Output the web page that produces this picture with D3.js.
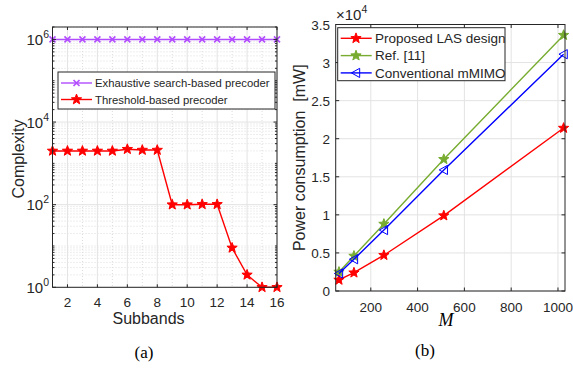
<!DOCTYPE html>
<html>
<head>
<meta charset="utf-8">
<script src="https://cdn.jsdelivr.net/npm/d3@7"></script>
<style>
  body { margin: 0; background: #fff; }
  text { font-family: "Liberation Sans", Arial, sans-serif; fill: #262626; }
  .serif { font-family: "Liberation Serif", "Times New Roman", serif; fill: #000; }
</style>
</head>
<body>
<script>
// Dados do painel (a): complexidade por sub-banda
const subbands = d3.range(1, 17);
const exhaustive = subbands.map(() => 1e6);
const threshold = [2000, 2000, 2000, 2000, 2000, 2200, 2100, 2100, 100, 100, 102, 102, 9, 2, 1, 1];

// Dados do painel (b): consumo de potência vs M
const antennas = [64, 128, 256, 512, 1024];
const proposedLAS = [1450, 2400, 4700, 9900, 21400];
const ref11 = [2500, 4600, 8800, 17300, 33600];
const conventional = [2300, 4170, 8000, 15900, 31100];

const xTicksA = [2, 4, 6, 8, 10, 12, 14, 16];
const yTicksA = [1, 100, 1e4, 1e6];
const xTicksB = [200, 400, 600, 800, 1000];
const yTicksB = [0, 5000, 10000, 15000, 20000, 25000, 30000, 35000];

const W = 573, H = 369;
const svg = d3.select("body").append("svg")
    .attr("width", W)
    .attr("height", H);

const axisColor = "#262626";
const gridColor = "#e3e3e3";

// Estrela de 5 pontas
function starPath(r) {
    const pts = [];
    for (let i = 0; i < 10; i++) {
        const a = -Math.PI / 2 + i * Math.PI / 5;
        const rr = i % 2 === 0 ? r : r * 0.42;
        pts.push([rr * Math.cos(a), rr * Math.sin(a)]);
    }
    return d3.line()(pts) + "Z";
}
function crossPath(r) {
    return `M${-r},${-r}L${r},${r}M${-r},${r}L${r},${-r}`;
}
function leftTriPath(r) {
    return `M${-r},0L${r * 0.8},${-r}L${r * 0.8},${r}Z`;
}

function drawMarkers(g, pts, kind, color) {
    g.selectAll(null).data(pts).enter().append("path")
        .attr("transform", d => `translate(${d[0]},${d[1]})`)
        .attr("d", kind === "star" ? starPath(5.4) : kind === "cross" ? crossPath(3) : leftTriPath(4.6))
        .attr("fill", kind === "star" ? color : "none")
        .attr("stroke", color)
        .attr("stroke-width", kind === "cross" ? 1.6 : 1);
}

// ---------------- Painel (a) ----------------
const a = { left: 52.5, right: 277, top: 27, bottom: 287.3 };
const xA = d3.scaleLinear().domain([1, 16]).range([a.left, a.right]);
const yA = d3.scaleLog().domain([1, 2e6]).range([a.bottom, a.top]);

const gA = svg.append("g");

// grade menor (pontilhada)
const minorY = [];
for (let k = 0; k < 7; k++) {
    for (let m = 1; m < 10; m++) {
        const v = m * Math.pow(10, k);
        if (v <= 2e6 && !yTicksA.includes(v) && v > 1) minorY.push(v);
    }
}
gA.selectAll(null).data(minorY).enter().append("line")
    .attr("x1", a.left).attr("x2", a.right)
    .attr("y1", d => yA(d)).attr("y2", d => yA(d))
    .attr("stroke", "#dcdcdc").attr("stroke-dasharray", "1,2");
gA.selectAll(null).data(d3.range(3, 16, 2)).enter().append("line")
    .attr("x1", d => xA(d)).attr("x2", d => xA(d))
    .attr("y1", a.top).attr("y2", a.bottom)
    .attr("stroke", "#dcdcdc").attr("stroke-dasharray", "1,2");

// grade maior
gA.selectAll(null).data(xTicksA).enter().append("line")
    .attr("x1", d => xA(d)).attr("x2", d => xA(d))
    .attr("y1", a.top).attr("y2", a.bottom)
    .attr("stroke", gridColor);
gA.selectAll(null).data(yTicksA).enter().append("line")
    .attr("x1", a.left).attr("x2", a.right)
    .attr("y1", d => yA(d)).attr("y2", d => yA(d))
    .attr("stroke", gridColor);

// linhas
const lineA = d3.line().x(d => xA(d[0])).y(d => yA(d[1]));
const exPts = subbands.map((s, i) => [s, exhaustive[i]]);
const thPts = subbands.map((s, i) => [s, threshold[i]]);
gA.append("path").attr("d", lineA(exPts)).attr("fill", "none")
    .attr("stroke", "#b24cff").attr("stroke-width", 1.4);
gA.append("path").attr("d", lineA(thPts)).attr("fill", "none")
    .attr("stroke", "#ff0000").attr("stroke-width", 1.4);
drawMarkers(gA, exPts.map(d => [xA(d[0]), yA(d[1])]), "cross", "#b24cff");
drawMarkers(gA, thPts.map(d => [xA(d[0]), yA(d[1])]), "star", "#ff0000");

// caixa e ticks
gA.append("rect").attr("x", a.left).attr("y", a.top)
    .attr("width", a.right - a.left).attr("height", a.bottom - a.top)
    .attr("fill", "none").attr("stroke", axisColor).attr("stroke-width", 1);
xTicksA.forEach(t => {
    gA.append("line").attr("x1", xA(t)).attr("x2", xA(t)).attr("y1", a.bottom).attr("y2", a.bottom - 3).attr("stroke", axisColor);
    gA.append("line").attr("x1", xA(t)).attr("x2", xA(t)).attr("y1", a.top).attr("y2", a.top + 3).attr("stroke", axisColor);
    gA.append("text").attr("x", xA(t)).attr("y", 306.5).attr("text-anchor", "middle")
        .attr("font-size", 13.5).text(t);
});
minorY.forEach(v => {
    gA.append("line").attr("x1", a.left).attr("x2", a.left + 2).attr("y1", yA(v)).attr("y2", yA(v)).attr("stroke", axisColor);
    gA.append("line").attr("x1", a.right).attr("x2", a.right - 2).attr("y1", yA(v)).attr("y2", yA(v)).attr("stroke", axisColor);
});
yTicksA.forEach(v => {
    gA.append("line").attr("x1", a.left).attr("x2", a.left + 3.5).attr("y1", yA(v)).attr("y2", yA(v)).attr("stroke", axisColor);
    gA.append("line").attr("x1", a.right).attr("x2", a.right - 3.5).attr("y1", yA(v)).attr("y2", yA(v)).attr("stroke", axisColor);
    const t = gA.append("text").attr("x", 49).attr("y", yA(v) + 5.5).attr("text-anchor", "end").attr("font-size", 15);
    t.append("tspan").text("10");
    t.append("tspan").attr("dy", -7).attr("font-size", 10.5).text(Math.round(Math.log10(v)));
});

gA.append("text").attr("x", 148.5).attr("y", 323.5).attr("text-anchor", "middle")
    .attr("font-size", 16).text("Subbands");
gA.append("text").attr("transform", `translate(24,159) rotate(-90)`)
    .attr("text-anchor", "middle").attr("font-size", 16).text("Complexity");

// legenda (a)
const legA = gA.append("g");
legA.append("rect").attr("x", 58).attr("y", 72).attr("width", 217).attr("height", 37)
    .attr("fill", "#fff").attr("stroke", axisColor);
[["Exhaustive search-based precoder", "#b24cff", "cross", 83],
 ["Threshold-based precoder", "#ff0000", "star", 99.5]].forEach(e => {
    legA.append("line").attr("x1", 61).attr("x2", 92).attr("y1", e[3]).attr("y2", e[3])
        .attr("stroke", e[1]).attr("stroke-width", 1.4);
    drawMarkers(legA, [[76.5, e[3]]], e[2], e[1]);
    legA.append("text").attr("x", 95).attr("y", e[3] + 4).attr("font-size", 11.3).text(e[0]);
});

svg.append("text").attr("class", "serif").attr("x", 144).attr("y", 358)
    .attr("text-anchor", "middle").attr("font-size", 17).text("(a)");

// ---------------- Painel (b) ----------------
const b = { left: 335.7, right: 565, top: 24.5, bottom: 291 };
const xB = d3.scaleLinear().domain([50, 1030]).range([b.left, b.right]);
const yB = d3.scaleLinear().domain([0, 35000]).range([b.bottom, b.top]);

const gB = svg.append("g");
gB.selectAll(null).data(xTicksB).enter().append("line")
    .attr("x1", d => xB(d)).attr("x2", d => xB(d))
    .attr("y1", b.top).attr("y2", b.bottom)
    .attr("stroke", gridColor);
gB.selectAll(null).data(yTicksB).enter().append("line")
    .attr("x1", b.left).attr("x2", b.right)
    .attr("y1", d => yB(d)).attr("y2", d => yB(d))
    .attr("stroke", gridColor);

const series = [
    { name: "Proposed LAS design", values: proposedLAS, color: "#ff0000", kind: "star" },
    { name: "Ref. [11]", values: ref11, color: "#77ac30", kind: "star" },
    { name: "Conventional mMIMO", values: conventional, color: "#0000ff", kind: "tri" }
];
const lineB = d3.line().x(d => xB(d[0])).y(d => yB(d[1]));
series.forEach(s => {
    const pts = antennas.map((m, i) => [m, s.values[i]]);
    gB.append("path").attr("d", lineB(pts)).attr("fill", "none")
        .attr("stroke", s.color).attr("stroke-width", 1.4);
    drawMarkers(gB, pts.map(d => [xB(d[0]), yB(d[1])]), s.kind, s.color);
});

gB.append("rect").attr("x", b.left).attr("y", b.top)
    .attr("width", b.right - b.left).attr("height", b.bottom - b.top)
    .attr("fill", "none").attr("stroke", axisColor).attr("stroke-width", 1);
xTicksB.forEach(t => {
    gB.append("line").attr("x1", xB(t)).attr("x2", xB(t)).attr("y1", b.bottom).attr("y2", b.bottom - 3.5).attr("stroke", axisColor);
    gB.append("line").attr("x1", xB(t)).attr("x2", xB(t)).attr("y1", b.top).attr("y2", b.top + 3.5).attr("stroke", axisColor);
    gB.append("text").attr("x", xB(t)).attr("y", 311.5).attr("text-anchor", "middle")
        .attr("font-size", 13.5).text(t);
});
yTicksB.forEach(v => {
    gB.append("line").attr("x1", b.left).attr("x2", b.left + 3.5).attr("y1", yB(v)).attr("y2", yB(v)).attr("stroke", axisColor);
    gB.append("line").attr("x1", b.right).attr("x2", b.right - 3.5).attr("y1", yB(v)).attr("y2", yB(v)).attr("stroke", axisColor);
    gB.append("text").attr("x", 330).attr("y", yB(v) + 5).attr("text-anchor", "end")
        .attr("font-size", 13.5).text(d3.format("~g")(v / 1e4));
});
const ex = gB.append("text").attr("x", 336).attr("y", 19.5).attr("font-size", 15);
ex.append("tspan").text("\u00d710");
ex.append("tspan").attr("dy", -7).attr("font-size", 10.5).text("4");

gB.append("text").attr("transform", `translate(305,${(b.top + b.bottom) / 2}) rotate(-90)`)
    .attr("text-anchor", "middle").attr("font-size", 16).attr("xml:space", "preserve")
    .text("Power consumption  [mW]");
gB.append("text").attr("class", "serif").attr("x", 446).attr("y", 325.5)
    .attr("text-anchor", "middle").attr("font-size", 18).attr("font-style", "italic").text("M");

// legenda (b)
const legB = gB.append("g");
legB.append("rect").attr("x", 337.7).attr("y", 27.7).attr("width", 167.3).attr("height", 53)
    .attr("fill", "#fff").attr("stroke", axisColor);
series.forEach((s, i) => {
    const yy = 38.3 + i * 17.3;
    legB.append("line").attr("x1", 340.7).attr("x2", 371.7).attr("y1", yy).attr("y2", yy)
        .attr("stroke", s.color).attr("stroke-width", 1.4);
    drawMarkers(legB, [[356, yy]], s.kind, s.color);
    legB.append("text").attr("x", 375).attr("y", yy + 4.8).attr("font-size", 13.5).text(s.name);
});

svg.append("text").attr("class", "serif").attr("x", 425).attr("y", 356)
    .attr("text-anchor", "middle").attr("font-size", 17).text("(b)");
</script>
</body>
</html>
